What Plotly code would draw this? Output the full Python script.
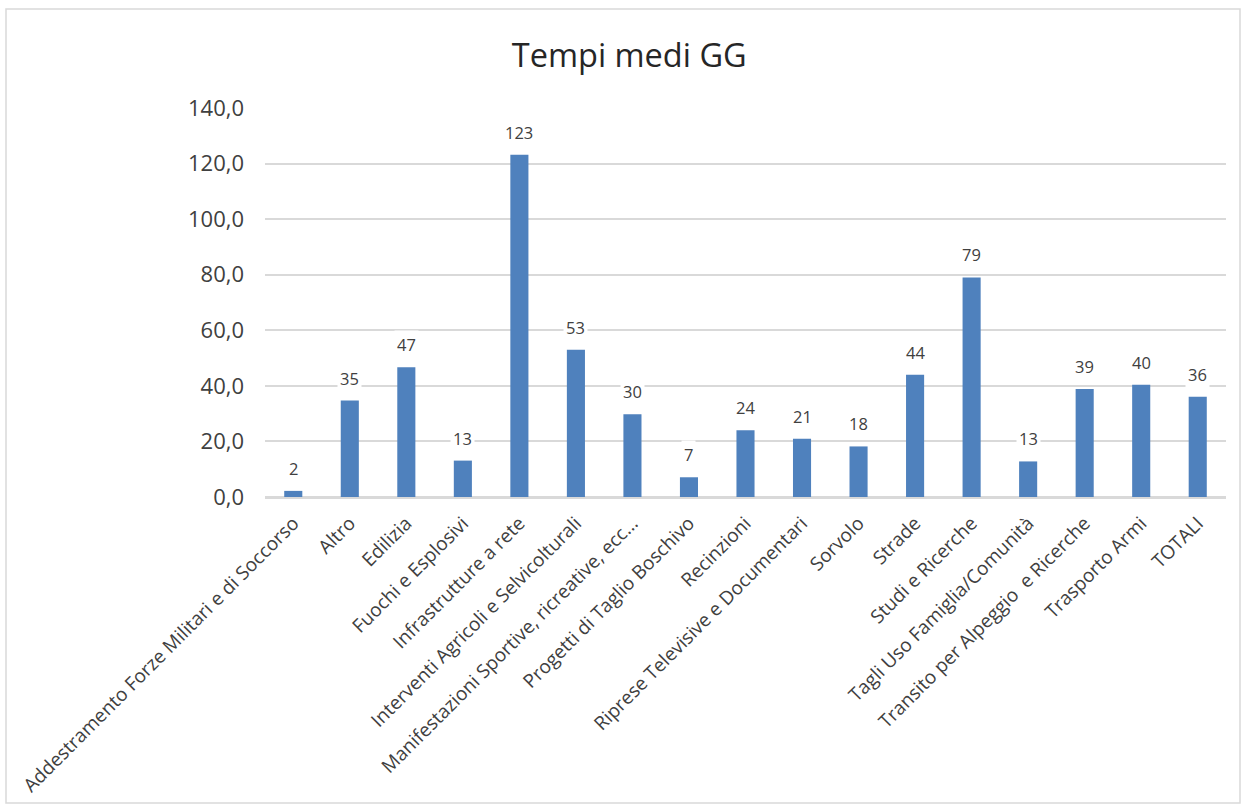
import plotly.graph_objects as go

categories = [
    "Addestramento Forze Militari e di Soccorso",
    "Altro",
    "Edilizia",
    "Fuochi e Esplosivi",
    "Infrastrutture a rete",
    "Interventi Agricoli e Selvicolturali",
    "Manifestazioni Sportive, ricreative, ecc...",
    "Progetti di Taglio Boschivo",
    "Recinzioni",
    "Riprese Televisive e Documentari",
    "Sorvolo",
    "Strade",
    "Studi e Ricerche",
    "Tagli Uso Famiglia/Comunità",
    "Transito per Alpeggio  e Ricerche",
    "Trasporto Armi",
    "TOTALI",
]
values = [2.2, 34.7, 46.7, 13.1, 123.2, 53.0, 29.8, 7.1, 24.0, 21.0, 18.2, 44.0, 79.0, 12.8, 38.9, 40.4, 36.1]
y_ticks = [0, 20, 40, 60, 80, 100, 120, 140]

FONT = "Open Sans"
TXT = "#404040"
GRID = "#d9d9d9"

fig = go.Figure()
fig.add_trace(go.Bar(
    x=categories,
    y=values,
    marker=dict(color="#4f81bd", line=dict(width=0)),
    hoverinfo="x+y",
))

for c, v in zip(categories, values):
    fig.add_annotation(
        x=c, y=v, xref="x", yref="y",
        text=f"{v:.0f}",
        showarrow=False,
        yanchor="bottom",
        yshift=8,
        bgcolor="white",
        borderpad=2,
        font=dict(family=FONT, size=16.5, color=TXT),
    )

W, H = 1246, 805
L, R, T, B = 265, 20, 108, 308
pw, ph = W - L - R, H - T - B

def px_x(p):
    return (p - L) / pw

def px_y(p):
    return (H - B - p) / ph

fig.add_shape(
    type="rect", xref="paper", yref="paper",
    x0=px_x(6), x1=px_x(1240), y0=px_y(803), y1=px_y(9),
    line=dict(color=GRID, width=1.5), fillcolor="rgba(0,0,0,0)", layer="below",
)

fig.update_layout(
    width=W, height=H,
    margin=dict(l=L, r=R, t=T, b=B, pad=0, autoexpand=False),
    paper_bgcolor="white",
    plot_bgcolor="white",
    separators=",.",
    showlegend=False,
    bargap=0.68,
    title=dict(
        text="Tempi medi GG",
        x=0.505, xref="container", xanchor="center",
        y=1 - 56 / H, yref="container", yanchor="middle",
        font=dict(family=FONT, size=32.5, color="#262626"),
    ),
    xaxis=dict(
        automargin=False,
        tickangle=-45,
        tickfont=dict(family=FONT, size=19, color=TXT),
        showgrid=False,
        showline=True, linecolor=GRID, linewidth=1.5,
        ticks="",
        ticklabelstandoff=6,
    ),
    yaxis=dict(
        automargin=False,
        range=[0, 140],
        tickvals=y_ticks,
        tickformat=".1f",
        tickfont=dict(family=FONT, size=22, color=TXT),
        showgrid=True, gridcolor=GRID, gridwidth=1.5,
        zeroline=True, zerolinecolor=GRID, zerolinewidth=1.5,
        showline=False,
        ticks="",
        ticklabelstandoff=20,
    ),
)

fig.write_html(
    "out.html",
    config={"displayModeBar": False},
    post_script="document.body.style.margin='0';document.body.style.overflow='hidden';",
)
